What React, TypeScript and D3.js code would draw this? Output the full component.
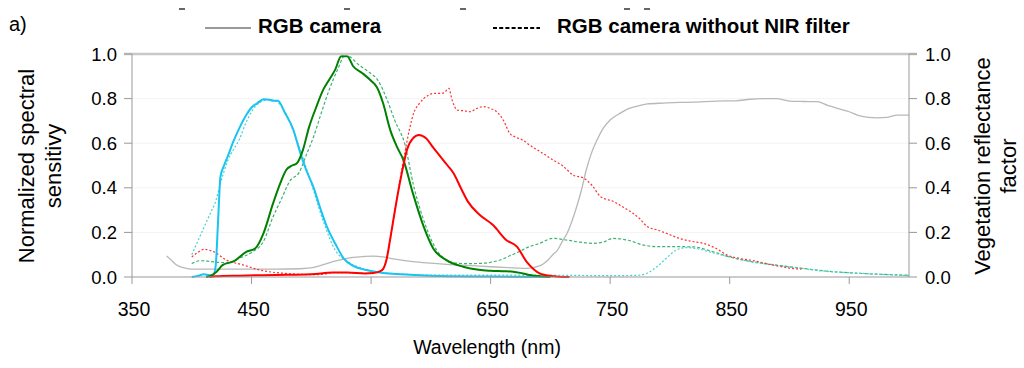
import React from "react";
import * as d3 from "d3";

// ---- data (wavelength nm, normalized value) ----
const blueWl = [400,405,410,415,418,420,422,424,427,430,435,440,446,450,455,460,465,468,472,478,485,490,495,502,508,513,520,527,535,546,560,575,600,650,700];
const blueVal = [0,0.005,0.012,0.008,0.01,0.05,0.25,0.45,0.5,0.54,0.61,0.67,0.73,0.76,0.78,0.797,0.795,0.79,0.79,0.735,0.66,0.57,0.49,0.4,0.3,0.226,0.15,0.084,0.05,0.031,0.018,0.012,0.006,0.002,0];

const blueNirWl = [400,405,410,415,420,424,430,440,446,454,460,465,470,478,490,500,510,520,530,545,560,580,600,650,700,750,775,782,790,797,805,814,822,835,850,867,880,906,928,962,1000];
const blueNirVal = [0.1,0.16,0.22,0.28,0.34,0.42,0.52,0.62,0.7,0.77,0.79,0.795,0.79,0.74,0.58,0.42,0.25,0.12,0.07,0.035,0.02,0.012,0.008,0.008,0.008,0.006,0.008,0.02,0.05,0.084,0.12,0.132,0.128,0.11,0.09,0.069,0.058,0.042,0.027,0.016,0.006];

const greenWl = [412,416,420,426,435,446,453,460,468,474,479,484,488,493,498,504,510,515,520,525,530,535,543,550,555,560,566,572,577,585,594,602,613,627,640,650,660,669,677,684,690,700];
const greenVal = [0,0.005,0.02,0.054,0.07,0.114,0.128,0.196,0.33,0.42,0.48,0.5,0.51,0.57,0.67,0.76,0.84,0.885,0.93,0.99,0.99,0.945,0.913,0.88,0.85,0.78,0.66,0.58,0.525,0.375,0.226,0.128,0.076,0.046,0.032,0.028,0.026,0.024,0.016,0.008,0.004,0];

const greenNirWl = [400,407,415,422,429,440,450,460,468,475,482,490,496,502,508,515,522,529,533,540,548,556,563,570,578,586,595,605,612,619,630,641,650,658,666,674,682,691,702,713,725,736,745,752,764,778,790,808,820,835,850,867,880,906,930,960,1000];
const greenNirVal = [0.06,0.073,0.07,0.066,0.064,0.085,0.11,0.16,0.27,0.35,0.43,0.47,0.55,0.63,0.73,0.84,0.93,1.0,0.985,0.95,0.92,0.88,0.8,0.7,0.6,0.4,0.24,0.12,0.08,0.064,0.06,0.061,0.066,0.076,0.095,0.114,0.135,0.151,0.173,0.166,0.156,0.151,0.158,0.173,0.166,0.143,0.136,0.136,0.135,0.115,0.09,0.07,0.06,0.042,0.027,0.016,0.008];

const redWl = [415,420,440,460,480,500,518,530,545,552,559,563,566,570,574,577,580,585,590,596,602,608,614,619,625,631,641,652,663,672,680,686,691,700,716];
const redVal = [0,0.003,0.006,0.008,0.01,0.012,0.02,0.02,0.016,0.018,0.03,0.08,0.17,0.3,0.42,0.5,0.57,0.622,0.637,0.622,0.58,0.54,0.5,0.465,0.4,0.338,0.278,0.233,0.166,0.136,0.069,0.035,0.016,0.005,0];

const redNirWl = [400,405,410,418,429,443,457,470,479,490,500,510,518,530,545,552,559,563,566,570,574,578,582,586,590,594,598,602,607,611,615,618,622,628,633,638,644,650,655,661,666,672,677,683,689,695,702,710,719,728,735,742,753,762,769,775,781,790,797,808,818,828,838,848,860,870,885,900,910];
const redNirVal = [0.09,0.11,0.124,0.114,0.076,0.054,0.031,0.02,0.016,0.012,0.01,0.012,0.02,0.02,0.016,0.02,0.03,0.08,0.17,0.3,0.43,0.55,0.66,0.74,0.775,0.8,0.815,0.823,0.823,0.826,0.846,0.79,0.749,0.745,0.741,0.755,0.764,0.755,0.741,0.7,0.644,0.625,0.614,0.59,0.57,0.55,0.525,0.5,0.457,0.443,0.41,0.36,0.338,0.31,0.286,0.26,0.226,0.21,0.196,0.173,0.16,0.151,0.13,0.098,0.082,0.073,0.055,0.04,0.035];

const vegWl = [379,383,387,393,401,420,440,470,490,502,510,518,527,535,544,552,560,566,574,585,600,613,630,650,665,677,683,689,694,698,702,706,710,714,718,722,726,730,734,739,744,750,757,764,772,781,795,808,820,839,855,867,880,889,900,912,923,932,940,950,959,966,973,982,990,1000];
const vegVal = [0.094,0.075,0.055,0.042,0.035,0.035,0.035,0.035,0.037,0.043,0.055,0.069,0.08,0.088,0.092,0.094,0.09,0.084,0.077,0.069,0.062,0.057,0.052,0.046,0.042,0.039,0.04,0.046,0.058,0.076,0.1,0.121,0.16,0.196,0.25,0.315,0.39,0.48,0.55,0.614,0.665,0.704,0.73,0.752,0.765,0.776,0.78,0.783,0.784,0.789,0.79,0.797,0.8,0.8,0.789,0.787,0.786,0.77,0.756,0.741,0.722,0.716,0.714,0.716,0.726,0.726];

const xTicks = [350,450,550,650,750,850,950];
const yTicks = [0,0.2,0.4,0.6,0.8,1.0];

const left = 132, right = 909, top = 54, bottom = 277;
const FONT = "'Liberation Sans', Arial, sans-serif";

export default function App() {
  const x = d3.scaleLinear().domain([350, 1000]).range([left, right]);
  const y = d3.scaleLinear().domain([0, 1]).range([bottom, top]);
  const yR = d3.scaleLinear().domain([0, 1]).range([bottom, top]);
  const mk = (wl: number[], v: number[], sc = y) =>
    d3.line<number>().x((_, i) => x(wl[i])).y((d) => sc(d)).curve(d3.curveMonotoneX)(v) || "";

  const series = [
    { wl: vegWl, v: vegVal, c: "#b8b8b8", w: 1.3, dash: "", sc: yR },
    { wl: greenNirWl, v: greenNirVal, c: "#3cb371", w: 1.2, dash: "3,2", sc: y },
    { wl: blueNirWl, v: blueNirVal, c: "#48d1cc", w: 1.2, dash: "2,2", sc: y },
    { wl: redNirWl, v: redNirVal, c: "#ff3030", w: 1.2, dash: "2,2", sc: y },
    { wl: blueWl, v: blueVal, c: "#18c4f2", w: 2, dash: "", sc: y },
    { wl: greenWl, v: greenVal, c: "#008000", w: 2, dash: "", sc: y },
    { wl: redWl, v: redVal, c: "#ff0000", w: 2, dash: "", sc: y },
  ];

  return (
    <svg width={1024} height={368} style={{ position: "absolute", left: 0, top: 0 }} fontFamily={FONT}>
      <rect width={1024} height={368} fill="#fff" />
      {/* clipped text remnants at very top */}
      {[182, 347, 463, 627, 647].map((px, i) => (
        <line key={i} x1={px - 3} x2={px + 3} y1={9} y2={9} stroke="#333" strokeWidth={1.5} />
      ))}
      {/* legend */}
      <text x={9} y={31} fontSize={20}>a)</text>
      <line x1={205} x2={251} y1={28} y2={28} stroke="#777" strokeWidth={1.3} />
      <text x={258} y={33} fontSize={20.5} fontWeight="bold">RGB camera</text>
      <line x1={493} x2={540} y1={28} y2={28} stroke="#000" strokeWidth={2.2} strokeDasharray="4,2.2" />
      <text x={557} y={33} fontSize={20.5} fontWeight="bold">RGB camera without NIR filter</text>

      {/* gridlines */}
      {yTicks.slice(1, 5).map((t) => (
        <line key={t} x1={left} x2={right} y1={y(t)} y2={y(t)} stroke="#f3f3f3" strokeWidth={1} />
      ))}
      {/* series */}
      {series.map((s, i) => (
        <path key={i} d={mk(s.wl, s.v, s.sc)} fill="none" stroke={s.c} strokeWidth={s.w}
          strokeDasharray={s.dash || undefined} strokeLinejoin="round" />
      ))}
      {/* axes */}
      <line x1={124} x2={917} y1={top} y2={top} stroke="#c8c8c8" strokeWidth={2.5} />
      <line x1={left} x2={left} y1={top} y2={bottom} stroke="#999" strokeWidth={1} />
      <line x1={right} x2={right} y1={top} y2={bottom} stroke="#999" strokeWidth={1} />
      <line x1={left} x2={right} y1={bottom} y2={bottom} stroke="#999" strokeWidth={1} />
      {yTicks.map((t) => (
        <g key={t}>
          <line x1={124} x2={left} y1={y(t)} y2={y(t)} stroke="#999" />
          <line x1={right} x2={917} y1={yR(t)} y2={yR(t)} stroke="#999" />
          <text x={117} y={y(t)} dy="0.36em" textAnchor="end" fontSize={18.5}>{t.toFixed(1)}</text>
          <text x={925} y={yR(t)} dy="0.36em" textAnchor="start" fontSize={18.5}>{t.toFixed(1)}</text>
        </g>
      ))}
      {xTicks.map((t) => (
        <g key={t}>
          <line x1={x(t)} x2={x(t)} y1={bottom} y2={bottom + 7} stroke="#999" />
          <text x={x(t) + 2} y={316} textAnchor="middle" fontSize={19.5}>{t}</text>
        </g>
      ))}
      <text x={487} y={354} textAnchor="middle" fontSize={19.5}>Wavelength (nm)</text>
      <text transform="translate(34,166) rotate(-90)" textAnchor="middle" fontSize={22}>Normalized spectral</text>
      <text transform="translate(61,166) rotate(-90)" textAnchor="middle" fontSize={22}>sensitivy</text>
      <text transform="translate(990,166) rotate(-90)" textAnchor="middle" fontSize={22}>Vegetation reflectance</text>
      <text transform="translate(1016,166) rotate(-90)" textAnchor="middle" fontSize={22}>factor</text>
    </svg>
  );
}
